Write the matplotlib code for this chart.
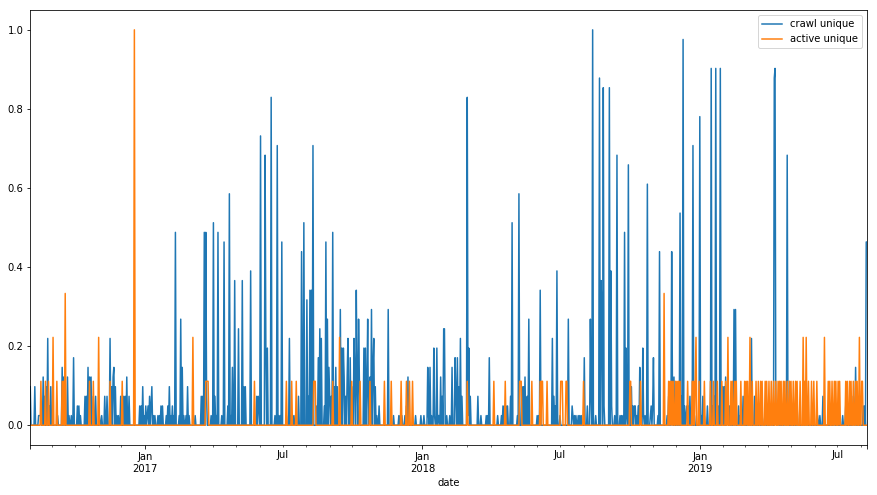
import numpy as np
import pandas as pd
import matplotlib
matplotlib.use("Agg")
import matplotlib.pyplot as plt

# daily series (day number since start, count)
start_date = "2016-08-03"
n_days = 1102

# crawl unique: counts out of a max of 41
crawl_max = 41
crawl_days = [0, 6, 11, 12, 13, 14, 17, 19, 21, 23, 25, 27, 36, 42, 44, 49, 51, 54, 57, 62,
              64, 66, 72, 74, 76, 78, 80, 83, 86, 91, 94, 98, 101, 105, 107, 109, 110, 112, 114, 116,
              119, 123, 125, 127, 130,
              144, 146, 148, 150, 152, 154, 155, 157, 159, 160, 162, 164, 168, 170, 172, 174, 179, 181, 183, 185,
              187, 189, 191, 196, 198, 200, 202, 205, 207, 209, 217, 225, 227, 229, 231, 232, 238, 241, 243, 245,
              247, 252, 255, 260, 262, 264, 266, 269, 274,
              279, 281, 283, 290, 298, 300, 301, 303, 309, 310, 312, 317, 322, 325, 327, 329, 331, 337, 341, 343,
              345, 347, 353, 357, 360, 364, 366, 368, 370, 372, 377, 379, 381, 383, 387, 389, 391, 393, 394, 396,
              398, 400, 402, 404, 408, 410,
              412, 413, 415, 417, 418, 421, 423, 426, 427, 429, 430, 432, 433, 439, 441, 443, 444, 446, 447, 449,
              451, 452, 454, 456, 459, 471, 478, 485, 487, 489, 493, 495, 497, 507, 514, 518, 523, 524, 526, 528,
              531, 532, 535, 537, 538, 540, 542, 544, 545, 548, 552,
              555, 559, 560, 562, 564, 566, 568, 575, 576, 577, 579, 589, 593, 600, 602, 604, 615, 620, 622, 624,
              626, 628, 632, 634, 641, 643, 647, 649, 651, 653, 654, 656, 667, 669, 671, 687, 689, 691,
              693, 697, 708, 713, 714, 716, 718, 721, 723, 725, 729, 733, 737, 738, 740, 744, 749, 751, 752, 754,
              755, 762, 764, 765, 769, 772, 776, 778, 780, 782, 784, 785, 787, 789, 791, 793, 795, 796, 798, 800,
              802, 803, 806, 807, 809, 812, 816, 817, 819, 820, 826, 828,
              838, 840, 842, 844, 845, 847, 851, 853, 855, 857, 859, 861, 863, 864, 866, 868, 872, 874, 881, 883,
              885, 887, 891, 896, 898, 900, 902, 904, 906, 908, 910, 911, 913, 915, 917, 918, 920, 922, 926, 928,
              932, 934, 938, 940, 944, 946, 949, 953, 963, 967,
              970, 974, 976, 979, 980, 981, 983, 985, 992, 994, 996, 1003, 1006, 1009, 1018, 1022, 1036, 1039, 1043, 1045,
              1053, 1058, 1062, 1069, 1073, 1077, 1083, 1086, 1088, 1090, 1096, 1098, 1100, 1101]
crawl_counts = [4, 4, 1, 1, 1, 1, 5, 3, 4, 9, 2, 4, 1, 6, 5, 5, 1, 1, 7, 2,
                2, 1, 3, 3, 6, 5, 5, 3, 3, 1, 1, 3, 3, 9, 4, 5, 6, 4, 1, 1,
                3, 3, 3, 5, 3,
                2, 2, 4, 1, 2, 1, 2, 3, 2, 4, 1, 1, 1, 1, 2, 2, 1, 2, 4, 1,
                2, 1, 20, 1, 11, 6, 1, 1, 4, 1, 1, 3, 3, 20, 20, 3, 1, 21, 3, 1,
                20, 1, 19, 2, 24, 1, 6, 15, 10,
                15, 4, 4, 16, 3, 3, 2, 30, 28, 8, 8, 34, 1, 29, 1, 1, 19, 1, 9, 1,
                1, 1, 3, 18, 21, 13, 3, 14, 14, 29, 2, 7, 10, 9, 2, 19, 11, 6, 3, 3,
                20, 4, 6, 4, 12, 8,
                8, 5, 3, 5, 9, 7, 4, 9, 5, 14, 4, 11, 5, 8, 8, 4, 11, 4, 5, 12,
                6, 9, 4, 1, 2, 12, 1, 1, 1, 1, 1, 2, 5, 1, 1, 1, 6, 1, 6, 1,
                8, 1, 8, 1, 1, 5, 3, 10, 10, 1, 1,
                6, 7, 3, 7, 4, 9, 3, 34, 1, 8, 3, 3, 1, 1, 1, 7, 1, 1, 2, 2,
                2, 2, 3, 21, 1, 24, 4, 4, 5, 1, 3, 11, 1, 1, 14, 9, 3, 2,
                16, 1, 11, 2, 1, 1, 1, 1, 1, 1, 7, 2, 11, 3, 41, 1, 36, 15, 12, 35,
                2, 35, 16, 2, 1, 28, 1, 1, 1, 20, 8, 1, 27, 2, 4, 2, 2, 2, 1, 2,
                6, 1, 8, 1, 1, 25, 1, 2, 2, 7, 1, 18,
                1, 3, 1, 18, 4, 5, 3, 4, 22, 3, 40, 2, 1, 2, 2, 3, 29, 1, 32, 1,
                3, 1, 2, 37, 2, 3, 37, 2, 2, 37, 4, 4, 4, 5, 2, 3, 2, 1, 12, 12,
                2, 1, 3, 1, 1, 2, 9, 3, 1, 2,
                1, 1, 1, 36, 37, 1, 1, 1, 1, 1, 28, 1, 1, 2, 2, 1, 1, 1, 3, 1,
                1, 1, 1, 1, 2, 1, 3, 6, 2, 1, 2, 2, 19, 19]

# active unique: counts out of a max of 9
active_max = 9
active_days = [14, 20, 24, 30, 35, 42, 44, 46, 78, 83, 90, 105, 121, 137, 214, 231, 232, 233, 234, 295,
               337, 344, 350, 373, 374, 375, 398, 407, 423, 434, 447, 466, 475, 488, 495, 499, 503, 575, 610, 625,
               644, 645, 646, 660, 671, 673, 674, 680, 698, 699, 700, 705, 706, 728, 789, 790, 803, 834, 840, 842,
               844, 846, 849, 851, 853, 855, 865, 871, 873, 875, 876, 880, 887, 895, 899, 904, 910, 915, 918, 922,
               924, 927, 929, 935, 940, 942, 944, 947, 950, 955, 958, 961, 963, 967, 969, 972, 975, 978, 981, 984,
               986, 988, 991, 993, 996, 999, 1001, 1004, 1007, 1009, 1013, 1017, 1019, 1021, 1024, 1028, 1031, 1035, 1045, 1050,
               1052, 1055, 1058, 1060, 1063, 1065, 1073, 1075, 1078, 1080, 1083, 1086, 1088, 1091, 1094, 1095]
active_counts = [1, 1, 1, 2, 1, 1, 1, 3, 1, 1, 2, 1, 1, 9, 2, 1, 1, 1, 1, 1,
                 1, 1, 1, 1, 1, 1, 1, 2, 1, 1, 1, 1, 1, 1, 1, 1, 1, 1, 1, 1,
                 1, 1, 1, 1, 1, 1, 1, 1, 1, 1, 1, 1, 1, 1, 1, 1, 1, 3, 1, 1,
                 1, 1, 1, 1, 1, 1, 1, 1, 1, 1, 2, 1, 1, 1, 1, 1, 1, 1, 2, 1,
                 1, 1, 1, 1, 1, 1, 1, 2, 1, 1, 1, 1, 1, 1, 1, 1, 1, 1, 1, 1,
                 1, 1, 1, 1, 1, 1, 1, 1, 1, 1, 1, 2, 1, 2, 1, 1, 1, 1, 2, 1,
                 1, 1, 1, 1, 1, 1, 1, 1, 1, 1, 1, 1, 1, 2, 1, 1]

dates = pd.date_range(start_date, periods=n_days, freq="D", name="date")
crawl = np.zeros(n_days)
crawl[crawl_days] = np.array(crawl_counts) / crawl_max
active = np.zeros(n_days)
active[active_days] = np.array(active_counts) / active_max

df = pd.DataFrame({"crawl unique": crawl, "active unique": active}, index=dates)

plt.rcParams["font.size"] = 10
fig = plt.figure(figsize=(877 / 72, 495 / 72), dpi=72)
ax = fig.add_axes([0.0345, 0.101, 0.9541, 0.8787])
df.plot(ax=ax)
ax.legend(loc="upper right")

fig.savefig("out.png", dpi=72)
